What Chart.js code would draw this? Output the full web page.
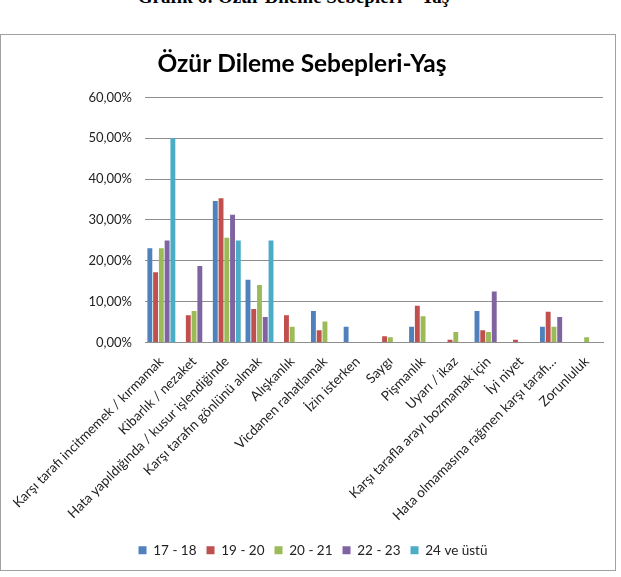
<!DOCTYPE html>
<html>
<head>
<meta charset="utf-8">
<script src="https://cdn.jsdelivr.net/npm/chart.js@4/dist/chart.umd.min.js"></script>
<style>
  body { margin: 0; background: #fff; width: 621px; height: 577px; overflow: hidden; position: relative; }
  #cap { position: absolute; left: 0; top: -13px; width: 587px; text-align: center;
         font: bold 19px "Liberation Serif", serif; line-height: 1; color: #000; }
  #box { position: absolute; left: 0; top: 34px; width: 614px; height: 535px; border: 1px solid #a0a0a0; }
</style>
</head>
<body>
<div id="cap">Grafik 6: Özür Dileme Sebepleri – Yaş</div>
<div id="box"><canvas id="chart"></canvas></div>
<script>
const categories = [
  'Karşı tarafı incitmemek / kırmamak',
  'Kibarlık / nezaket',
  'Hata yapıldığında / kusur işlendiğinde',
  'Karşı tarafın gönlünü almak',
  'Alışkanlık',
  'Vicdanen rahatlamak',
  'İzin isterken',
  'Saygı',
  'Pişmanlık',
  'Uyarı / ikaz',
  'Karşı tarafla arayı bozmamak için',
  'İyi niyet',
  'Hata olmamasına rağmen karşı tarafı…',
  'Zorunluluk'
];

const seriesNames = ['17 - 18', '19 - 20', '20 - 21', '22 - 23', '24 ve üstü'];

const age1718 = [23.08, 0, 34.62, 15.38, 0, 7.69, 3.85, 0, 3.85, 0, 7.69, 0, 3.85, 0];
const age1920 = [17.2, 6.7, 35.3, 8.2, 6.7, 3.0, 0, 1.5, 9.0, 0.7, 3.0, 0.7, 7.5, 0];
const age2021 = [23.08, 7.69, 25.64, 14.1, 3.85, 5.13, 0, 1.28, 6.41, 2.56, 2.56, 0, 3.85, 1.28];
const age2223 = [25, 18.75, 31.25, 6.25, 0, 0, 0, 0, 0, 0, 12.5, 0, 6.25, 0];
const age24 = [50, 0, 25, 25, 0, 0, 0, 0, 0, 0, 0, 0, 0, 0];

const colors = ['#4F81BD', '#C0504D', '#9BBB59', '#8064A2', '#4BACC6'];

const yTicks = [0, 10, 20, 30, 40, 50, 60];

const allSeries = [age1718, age1920, age2021, age2223, age24];

// nudge the legend a little to the right, like in the original
const legendShift = {
  id: 'legendShift',
  afterLayout(chart) {
    chart.legend.left += 11;
    chart.legend.right += 11;
  }
};

const ctx = document.getElementById('chart');

new Chart(ctx, {
  type: 'bar',
  data: {
    labels: categories,
    datasets: allSeries.map((vals, i) => ({
      label: seriesNames[i],
      data: vals,
      backgroundColor: colors[i],
      borderWidth: 0,
      categoryPercentage: 0.88,
      barPercentage: 0.85
    }))
  },
  plugins: [legendShift],
  options: {
    responsive: true,
    maintainAspectRatio: false,
    animation: false,
    layout: { padding: { left: 0, right: 12, top: 0, bottom: 3 } },
    plugins: {
      title: {
        display: true,
        text: 'Özür Dileme Sebepleri-Yaş',
        color: '#000',
        font: { family: 'Lato', size: 24.5, weight: 'bold' },
        padding: { top: 14, bottom: 19 }
      },
      legend: {
        position: 'bottom',
        labels: {
          color: '#222',
          font: { family: 'Lato', size: 13.5 },
          boxWidth: 8,
          boxHeight: 8,
          padding: 10
        }
      },
      tooltip: { enabled: false }
    },
    scales: {
      x: {
        grid: { display: false },
        border: { display: true, color: '#8e8e8e' },
        ticks: {
          autoSkip: false,
          maxRotation: 45,
          minRotation: 45,
          color: '#222',
          font: { family: 'Lato', size: 13.5 }
        },
        afterFit: (scale) => { scale.height = 191; }
      },
      y: {
        min: 0,
        max: 60,
        afterBuildTicks: (scale) => { scale.ticks = yTicks.map(v => ({ value: v })); },
        grid: { color: '#8e8e8e', drawTicks: false },
        border: { display: false },
        ticks: {
          padding: 13,
          color: '#222',
          font: { family: 'Lato', size: 13 },
          callback: (v) => v.toFixed(2).replace('.', ',') + '%'
        },
        afterFit: (scale) => { scale.width = 144; }
      }
    }
  }
});
</script>
</body>
</html>
